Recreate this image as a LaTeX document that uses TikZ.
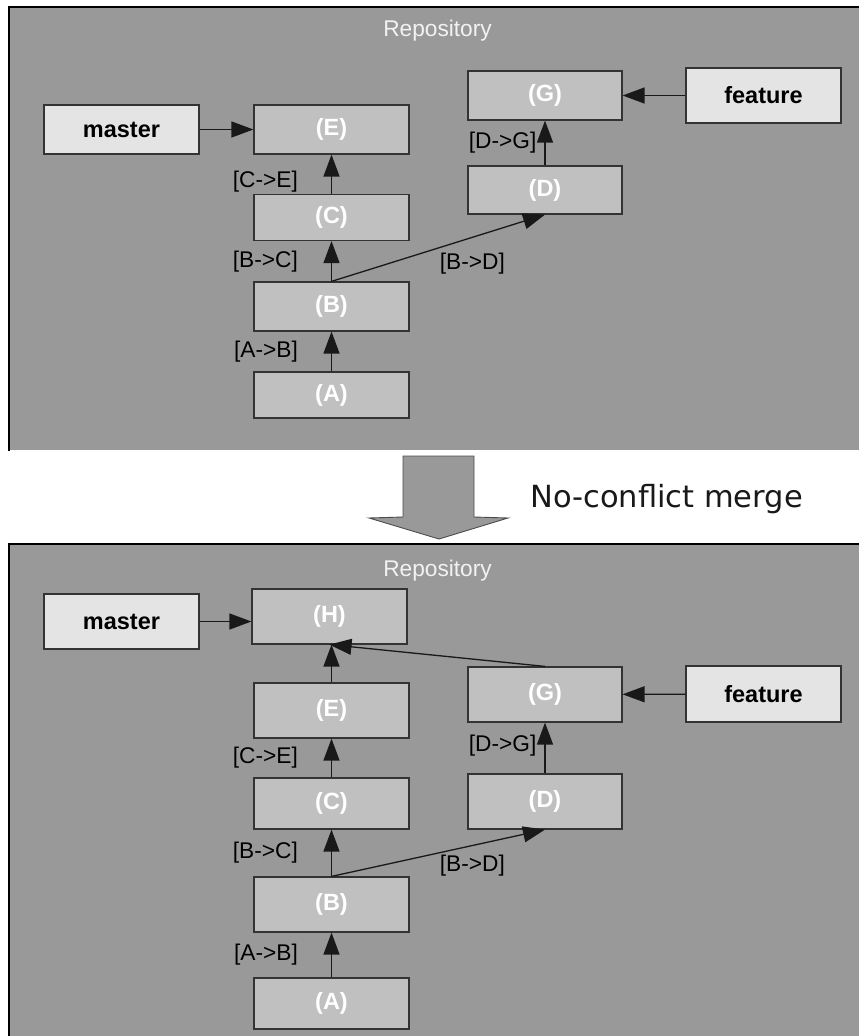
\documentclass[tikz,border=0pt]{standalone}
\usepackage{fontspec}
\setmainfont{Liberation Sans}
\newfontfamily\mergefont{DejaVu Sans}
\usetikzlibrary{arrows.meta,calc}

\definecolor{panelgray}{HTML}{999999}
\definecolor{commitfill}{HTML}{C0C0C0}
\definecolor{branchfill}{HTML}{E4E4E4}
\definecolor{boxline}{HTML}{333333}
\definecolor{repotext}{HTML}{F2F2F2}

\tikzset{
  panel/.style={fill=panelgray, draw=none},
  panelrule/.style={draw=black, line width=2pt},
  commit/.style={rectangle, draw=boxline, line width=1.2pt, fill=commitfill,
    text=white, inner sep=0pt, minimum width=155pt,
    font=\fontsize{23.5}{28}\selectfont\bfseries},
  branch/.style={rectangle, draw=boxline, line width=1.2pt, fill=branchfill,
    text=black, inner sep=0pt, minimum width=155pt,
    font=\fontsize{23.5}{28}\selectfont\bfseries},
  edge/.style={draw=black!90, line width=1.3pt, -{Triangle[length=22pt,width=16pt]}},
  lbl/.style={inner sep=0pt, text=black, font=\fontsize{22.7}{27}\selectfont},
  repo/.style={inner sep=0pt, text=repotext, font=\fontsize{22.7}{27}\selectfont, anchor=base},
  bigarrow/.style={fill=panelgray, draw=black!70, line width=0.9pt, line join=miter},
}

\begin{document}
\begin{tikzpicture}[x=1pt, y=-1pt]
  \useasboundingbox (0,0) rectangle (859,1036);
  \clip (0,0) rectangle (859,1036);

  % ---------- before the merge ----------
  \fill[panel] (9,7) rectangle (870,450);
  \draw[panelrule] (8.5,451) -- (8.5,6.5) -- (870,6.5);
  \node[repo] (repoA) at (437.5,36.5) {Repository};

  \node[branch, minimum height=49pt] (mA) at (121.5,129.5) {master};
  \node[commit, minimum height=49pt] (eA) at (331.5,129.5) {(E)};
  \node[commit, minimum height=46pt] (cA) at (331.5,217.5) {(C)};
  \node[commit, minimum height=49pt] (bA) at (331.5,306.5) {(B)};
  \node[commit, minimum height=46pt] (aA) at (331.5,395) {(A)};
  \node[commit, minimum height=49pt, minimum width=154pt] (gA) at (545,95.5) {(G)};
  \node[commit, minimum height=48pt, minimum width=154pt] (dA) at (545,190) {(D)};
  \node[branch, minimum height=55pt] (fA) at (763.5,95.5) {feature};

  \draw[edge] (mA) -- (eA);
  \draw[edge] (fA) -- (gA);
  \draw[edge] (cA) -- node[lbl, pos=0.3, left=33pt] {[C->E]} (eA);
  \draw[edge] (bA) -- node[lbl, left=33pt] {[B->C]} (cA);
  \draw[edge] (aA) -- node[lbl, left=33pt] {[A->B]} (bA);
  \draw[edge] (dA) -- node[lbl, left=8pt] {[D->G]} (gA);
  \draw[edge] (bA.north) -- node[lbl, pos=0.66, below=15pt] {[B->D]} (dA.south);

  % ---------- merge step ----------
  \draw[bigarrow] (403,456) -- (474,456) -- (474,517) -- (508,518) -- (439,539)
    -- (369,518) -- (403,517) -- cycle;
  \node[inner sep=0pt, anchor=base, text=black!90, font=\mergefont\fontsize{30.5}{36}\selectfont]
    (mergeText) at (666.5,507) {No-conflict merge};

  % ---------- after the merge ----------
  \fill[panel] (9,544) rectangle (870,1040);
  \draw[panelrule] (8.5,1040) -- (8.5,544) -- (870,544);
  \node[repo] (repoB) at (437.5,576) {Repository};

  \node[branch, minimum height=55pt] (mB) at (121.5,621.5) {master};
  \node[commit, minimum height=55pt] (hB) at (329.5,616.5) {(H)};
  \node[commit, minimum height=55pt] (eB) at (331.5,710.5) {(E)};
  \node[commit, minimum height=51pt] (cB) at (331.5,803.5) {(C)};
  \node[commit, minimum height=55pt] (bB) at (331.5,904.5) {(B)};
  \node[commit, minimum height=51pt] (aB) at (331.5,1003.5) {(A)};
  \node[commit, minimum height=55pt, minimum width=154pt] (gB) at (545,694.5) {(G)};
  \node[commit, minimum height=55pt, minimum width=154pt] (dB) at (545,801.5) {(D)};
  \node[branch, minimum height=56pt] (fB) at (763.5,694) {feature};

  \draw[edge] (mB) -- (mB.east -| hB.west);
  \draw[edge] (fB) -- (gB);
  \draw[edge] (eB) -- (eB.north |- hB.south);
  \draw[edge] (gB.north) -- (hB.south);
  \draw[edge] (cB) -- node[lbl, left=33pt] {[C->E]} (eB);
  \draw[edge] (bB) -- node[lbl, left=33pt] {[B->C]} (cB);
  \draw[edge] (aB) -- node[lbl, left=33pt] {[A->B]} (bB);
  \draw[edge] (dB) -- node[lbl, pos=0.55, left=8pt] {[D->G]} (gB);
  \draw[edge] (bB.north) -- node[lbl, pos=0.66, below=9pt] {[B->D]} (dB.south);
\end{tikzpicture}
\end{document}
